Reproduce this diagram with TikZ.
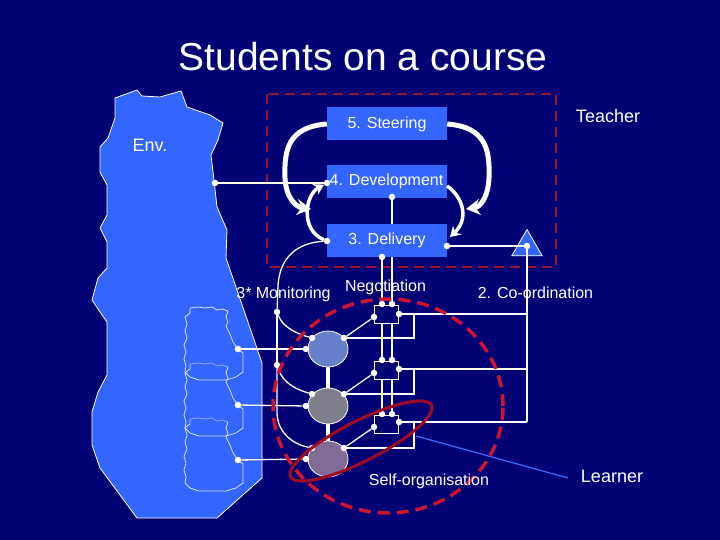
\documentclass[tikz,border=0pt]{standalone}
\usepackage{fontspec}
\setmainfont{Liberation Sans}
\usetikzlibrary{arrows.meta,shapes.geometric}
\definecolor{slide}{RGB}{2,2,116}
\definecolor{stageblue}{RGB}{51,102,255}
\definecolor{teacherred}{RGB}{150,20,60}
\definecolor{classred}{RGB}{205,20,50}
\definecolor{selfred}{RGB}{160,10,35}
\definecolor{learnerA}{RGB}{102,128,204}
\definecolor{learnerB}{RGB}{128,128,140}
\definecolor{learnerC}{RGB}{128,108,150}
\definecolor{lid}{RGB}{140,170,255}
\definecolor{spine}{RGB}{215,228,255}
\definecolor{linkblue}{RGB}{60,110,255}
\tikzset{
  stage/.style={fill=stageblue,text=white,minimum width=120pt,minimum height=33pt,inner sep=0pt,font=\fontsize{16}{18}\selectfont},
  hub/.style={draw=white,fill=slide,line width=1pt,minimum width=24pt,minimum height=18pt,inner sep=0pt},
  learner/.style={ellipse,draw=white,line width=0.8pt,minimum width=40pt,minimum height=36pt,inner sep=0pt},
  dot/.style={circle,fill=white,inner sep=0pt,minimum size=6.5pt},
  wire/.style={draw=white,line width=1.3pt},
  looparrow/.style={draw=white,line width=5pt,-{Stealth[length=14pt,width=16pt]}},
  smallloop/.style={draw=white,line width=3.5pt,-{Stealth[length=10pt,width=12pt]}},
  txt/.style={text=white,inner sep=0pt,anchor=base,font=\fontsize{16}{18}\selectfont},
}
\begin{document}
\begin{tikzpicture}[x=1pt,y=-1pt]
\useasboundingbox[fill=slide] (0,0) rectangle (720,540);
% environment
\draw[white,line width=0.8pt,fill=stageblue] (115,98) -- (137,90) -- (142,96) -- (160,97) -- (181,91) -- (187,107) -- (210,115) -- (223,123) -- (218,140) -- (211,155) -- (214,180) -- (217,207) -- (227,230) -- (226,258) -- (262,363) -- (262,478) -- (217,518) -- (137,518) -- (100,468) -- (92,445) -- (92,412) -- (98,392) -- (107,375) -- (107,322) -- (100,312) -- (92,300) -- (98,278) -- (107,268) -- (107,242) -- (100,228) -- (107,215) -- (107,185) -- (100,172) -- (100,147) -- (108,138) -- (115,118) -- cycle;
\foreach \dy/\topc in {0/spine,56/lid,111/lid} {
  \draw[spine,line width=0.8pt,shift={(0,\dy)}] (228,311) -- (226,317) -- (228,322) -- (226,326) -- (230,334) -- (233,342) -- (238,349) -- (243,353) -- (243,372) -- (236,377) -- (226,380) -- (199,380) -- (190,377) -- (185,372) -- (186,366) -- (184,359) -- (186,352) -- (184,345) -- (187,338) -- (185,331) -- (187,324) -- (185,317) -- (190,313) -- (190,308);
  \draw[\topc,line width=0.8pt,shift={(0,\dy)}] (190,308) -- (198,307) -- (205,308) -- (212,307) -- (217,310) -- (222,309) -- (228,311);
}
% teacher frame
\draw[teacherred,line width=2.5pt,dash pattern=on 10pt off 6pt] (267,94) rectangle (556,267);
\node[stage] (s5) at (387,124) {5. Steering};
\node[stage] (s4) at (386.5,181.5) {4. Development};
\node[stage] (s3) at (387,240.5) {3. Delivery};
\node[regular polygon,regular polygon sides=3,fill=stageblue,draw=white,line width=0.8pt,minimum size=35pt,inner sep=0pt] (tri) at (527,247) {};
\node[hub] (h1) at (386,314) {};
\node[hub] (h2) at (386,370) {};
\node[hub] (h3) at (386,424) {};
\node[learner,fill=learnerA] (c1) at (328,349) {};
\node[learner,fill=learnerB] (c2) at (328,406) {};
\node[learner,fill=learnerC] (c3) at (328,459) {};
\node[dot] (envdev) at (215,183) {};
\node[dot] (devin) at (327,183) {};
\node[dot] (devout) at (392,197) {};
\node[dot] (delin) at (327,241) {};
\node[dot] (delout) at (382,257) {};
\node[dot] (delright) at (447,246) {};
\node[dot] (tridot) at (527,246) {};
\node[dot] (mon1) at (277,312) {};
\node[dot] (mon2) at (277,365) {};
\node[dot] (e1) at (238,349) {};
\node[dot] (e2) at (238,405) {};
\node[dot] (e3) at (238,460) {};
\node[dot] (a1) at (306,349) {};
\node[dot] (a2) at (306,406) {};
\node[dot] (a3) at (306,459) {};
\node[dot] (u1) at (312,338) {};
\node[dot] (u2) at (312,394) {};
\node[dot] (u3) at (312,448) {};
\node[dot] (v1) at (344,338) {};
\node[dot] (v2) at (344,394) {};
\node[dot] (v3) at (344,448) {};
\node[dot] (ta1) at (382,304) {};
\node[dot] (tb1) at (392,304) {};
\node[dot] (ta2) at (382,360) {};
\node[dot] (tb2) at (392,360) {};
\node[dot] (ta3) at (382,414) {};
\node[dot] (tb3) at (392,414) {};
\node[dot] (r1) at (399,314) {};
\node[dot] (r2) at (399,369) {};
\node[dot] (r3) at (399,422) {};
\node[dot] (q1) at (374,317) {};
\node[dot] (q2) at (374,373) {};
\node[dot] (q3) at (374,427) {};
\coordinate (k1) at (392,224);
\coordinate (k2) at (392,257);
\coordinate (w1) at (527,314);
\coordinate (w2) at (527,369);
\coordinate (w3) at (527,422);
\coordinate (g1) at (414,314);
\coordinate (g2) at (414,369);
\coordinate (g3) at (414,422);
\coordinate (f1) at (416,436);
\coordinate (f2) at (568,478);
% links
\foreach \a/\b in {envdev/devin,devout/k1,delout/ta1,k2/tb1,delright/tridot,tridot/w3,w3/r3,w1/r1,w2/r2,e1/a1,e2/a2,e3/a3,v1/q1,v2/q2,v3/q3,mon1/mon2}
  \draw[wire] (\a)--(\b);
\foreach \i/\j in {1/2,2/3} {
  \draw[wire] (ta\i |- h\i.south) -- (ta\j);
  \draw[wire] (tb\i |- h\i.south) -- (tb\j);
}
\foreach \i in {1,2,3}
  \draw[wire] (v\i) -| (g\i);
\draw[wire] (delin) .. controls (296,243) and (280,258) .. (278,285) -- (mon1);
\draw[wire] (mon1) .. controls (283,328) and (298,334) .. (u1);
\draw[wire] (mon2) .. controls (283,384) and (298,390) .. (u2);
\draw[wire] (mon2) -- (277,412) .. controls (277,432) and (292,444) .. (u3);
\draw[white,line width=4.5pt] (c1) -- (c2) (c2) -- (c3);
% loops
\draw[looparrow] (s5.west) .. controls (288,127) and (284,150) .. (285,178) .. controls (286,198) and (296,207) .. (311,209);
\draw[looparrow] (s5.east) .. controls (486,127) and (490,150) .. (489,178) .. controls (488,198) and (480,207) .. (466,209);
\draw[smallloop] (delin) .. controls (300,230) and (305,195) .. (devin);
\draw[smallloop] (447,186) .. controls (462,196) and (470,218) .. (450,237);
\draw[linkblue,line width=1.2pt] (f1) -- (f2);
% groups
\draw[classred,line width=3.5pt,dash pattern=on 12pt off 7pt] (388,406) ellipse [x radius=115pt,y radius=107pt];
\draw[selfred,line width=3pt,rotate around={27:(361,441)}] (361,441) ellipse [x radius=79pt,y radius=20pt];
% texts
\node[txt,font=\fontsize{39}{42}\selectfont] (title) at (363,71) {Students on a course};
\node[txt,font=\fontsize{18}{20}\selectfont] (teacher) at (608,123) {Teacher};
\node[txt,font=\fontsize{18}{20}\selectfont] (env) at (150,152) {Env.};
\node[txt] (mon) at (283.5,298) {3* Monitoring};
\node[txt] (neg) at (385.5,291) {Negotiation};
\node[txt] (coord) at (535.5,298) {2. Co-ordination};
\node[txt] (selforg) at (429,485) {Self-organisation};
\node[txt,font=\fontsize{18}{20}\selectfont] (lrn) at (612,482) {Learner};
\end{tikzpicture}
\end{document}
